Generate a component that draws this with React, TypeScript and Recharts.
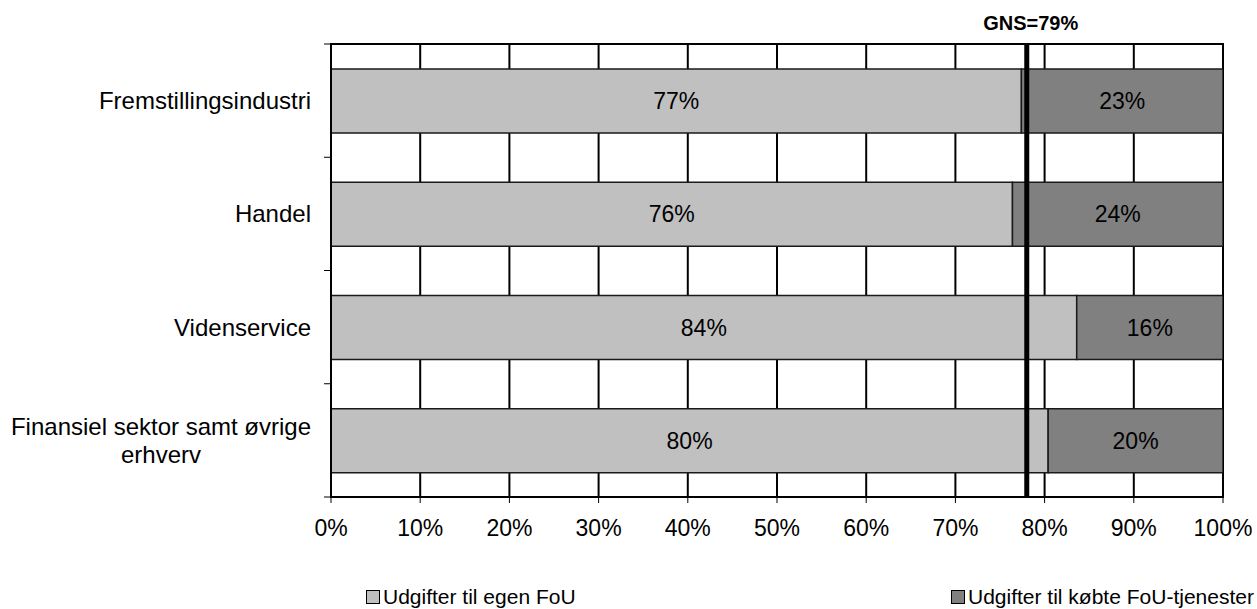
import {
  BarChart,
  Bar,
  XAxis,
  YAxis,
  CartesianGrid,
  ReferenceLine,
  ReferenceArea,
  LabelList,
  Legend,
} from "recharts";

document.body.style.margin = "0";

const categories = [
  "Fremstillingsindustri",
  "Handel",
  "Videnservice",
  "Finansiel sektor samt øvrige erhverv",
];
const egenFoU = [77.4, 76.4, 83.6, 80.4];
const koebteFoU = [22.6, 23.6, 16.4, 19.6];
const xTicks = [0, 10, 20, 30, 40, 50, 60, 70, 80, 90, 100];
const gnsPosition = 78;
const gnsLabel = "GNS=79%";

const chartData = categories.map((name, i) => ({
  name,
  egen: egenFoU[i],
  koebt: koebteFoU[i],
}));

const FONT = "'Liberation Sans', Arial, sans-serif";

// split long category names into lines of max ~28 chars
const wrap = (text: string, max = 28) => {
  const lines: string[] = [];
  let cur = "";
  text.split(" ").forEach((w) => {
    const next = cur ? cur + " " + w : w;
    if (next.length > max && cur) {
      lines.push(cur);
      cur = w;
    } else {
      cur = next;
    }
  });
  if (cur) lines.push(cur);
  return lines;
};

const CategoryTick = (props: any) => {
  const { x, y, payload, index, visibleTicksCount } = props;
  const lines = wrap(String(payload.value));
  const lineHeight = 28;
  const multi = lines.length > 1;
  const axisX = x + 20; // tickSize + tickMargin
  const half = payload.offset || 0;
  return (
    <g>
      {/* Excel style tick marks between categories */}
      <line x1={axisX - 7} x2={axisX} y1={y - half} y2={y - half} stroke="#000" />
      {index === visibleTicksCount - 1 && (
        <line x1={axisX - 7} x2={axisX} y1={y + half} y2={y + half} stroke="#000" />
      )}
      {lines.map((line, i) => (
        <text
          key={i}
          x={multi ? x - 150 : x}
          y={y + (i - (lines.length - 1) / 2) * lineHeight}
          dy="0.35em"
          textAnchor={multi ? "middle" : "end"}
          fontSize={24}
          fontFamily={FONT}
          fill="#000"
        >
          {line}
        </text>
      ))}
    </g>
  );
};

const LegendContent = (props: any) => {
  const { payload } = props;
  return (
    <div
      style={{
        display: "flex",
        fontFamily: FONT,
        fontSize: 21,
        color: "#000",
        whiteSpace: "nowrap",
        lineHeight: "28px",
      }}
    >
      {(payload || []).map((entry: any, i: number) => (
        <div
          key={i}
          style={{
            display: "flex",
            alignItems: "center",
            flexShrink: 0,
            width: i === 0 ? 585 : "auto",
          }}
        >
          <span
            style={{
              display: "inline-block",
              width: 12,
              height: 12,
              background: entry.color,
              border: "1.5px solid #000",
              marginRight: 3,
            }}
          />
          <span>{entry.value}</span>
        </div>
      ))}
    </div>
  );
};

export default function App() {
  return (
    <div style={{ width: 1257, height: 609, background: "#fff", fontFamily: FONT }}>
      <BarChart
        width={1257}
        height={609}
        data={chartData}
        layout="vertical"
        margin={{ top: 44, right: 34, bottom: 52, left: 0 }}
        barSize={64}
      >
        <CartesianGrid
          horizontal={false}
          vertical={true}
          stroke="#000"
          strokeWidth={2}
          strokeOpacity={1}
        />
        <XAxis
          type="number"
          domain={[0, 100]}
          ticks={xTicks}
          tickFormatter={(v) => `${v}%`}
          height={60}
          tick={{ fill: "#000", fontSize: 23, fontFamily: FONT }}
          tickSize={6}
          tickMargin={17}
          axisLine={{ stroke: "#000", strokeWidth: 2 }}
          tickLine={{ stroke: "#000", strokeWidth: 1 }}
          allowDataOverflow
        />
        <YAxis
          type="category"
          dataKey="name"
          width={331}
          tick={<CategoryTick />}
          tickLine={false}
          tickSize={6}
          tickMargin={14}
          axisLine={{ stroke: "#000", strokeWidth: 2 }}
        />
        <ReferenceArea
          x1={0}
          x2={100}
          fill="none"
          fillOpacity={0}
          stroke="#000"
          strokeWidth={2}
        />
        <Legend
          layout="horizontal"
          verticalAlign="middle"
          align="center"
          wrapperStyle={{ top: 583, left: 366, width: 891 }}
          content={<LegendContent />}
        />
        <Bar
          dataKey="egen"
          stackId="a"
          name="Udgifter til egen FoU"
          fill="#C0C0C0"
          stroke="#1a1a1a"
          strokeWidth={1.5}
          isAnimationActive={false}
        >
          <LabelList
            dataKey="egen"
            position="center"
            formatter={(v: any) => `${Math.round(Number(v))}%`}
            fill="#000"
            fontSize={23}
            fontFamily={FONT}
          />
        </Bar>
        <Bar
          dataKey="koebt"
          stackId="a"
          name="Udgifter til købte FoU-tjenester"
          fill="#808080"
          stroke="#1a1a1a"
          strokeWidth={1.5}
          isAnimationActive={false}
        >
          <LabelList
            dataKey="koebt"
            position="center"
            formatter={(v: any) => `${Math.round(Number(v))}%`}
            fill="#000"
            fontSize={23}
            fontFamily={FONT}
          />
        </Bar>
        <ReferenceLine
          x={gnsPosition}
          stroke="#000"
          strokeWidth={5}
          ifOverflow="extendDomain"
          label={{
            value: gnsLabel,
            position: "top",
            offset: 14,
            dx: 4,
            fill: "#000",
            fontSize: 20,
            fontWeight: "bold",
            fontFamily: FONT,
          }}
        />
      </BarChart>
    </div>
  );
}
